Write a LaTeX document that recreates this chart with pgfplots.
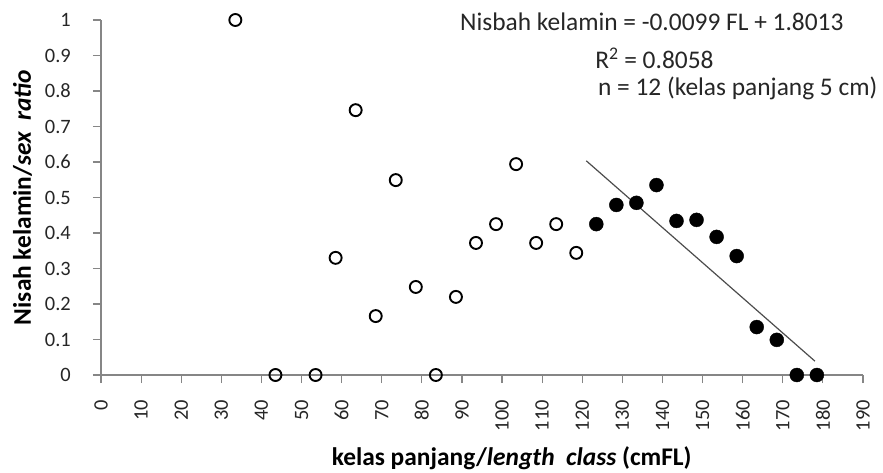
\documentclass[border=0pt]{standalone}
\usepackage{fontspec}
\setmainfont{Carlito}
\usepackage{pgfplots}
\pgfplotsset{compat=1.18}
\definecolor{axgray}{HTML}{868686}
\definecolor{txt}{HTML}{262626}

\begin{document}
\begin{tikzpicture}
\path[use as bounding box] (-101bp,-98bp) rectangle (782bp,375bp);
\begin{axis}[
    scale only axis,
    width=762bp, height=355bp,
    xmin=0, xmax=190, ymin=0, ymax=1,
    axis lines=left,
    axis line style={-, axgray, line width=1.2pt},
    tick style={axgray, line width=1.2pt},
    tick align=outside,
    major tick length=8bp,
    xtick={0,10,...,190},
    ytick={0,0.1,...,1},
    yticklabels={0,0.1,0.2,0.3,0.4,0.5,0.6,0.7,0.8,0.9,1},
    /pgf/number format/assume math mode=true,
    ticklabel style={font=\fontsize{20.5}{22}\selectfont, text=txt},
    xticklabel style={rotate=90, anchor=east, inner sep=0pt, xshift=-17bp},
    yticklabel style={anchor=east, inner sep=0pt, xshift=-22bp},
    clip=false,
    xlabel={\textbf{kelas panjang/\textit{length\ \ class} (cmFL)}},
    ylabel={\textbf{Nisah kelamin/\textit{sex\ \ ratio}}},
    label style={font=\fontsize{25.5}{27}\selectfont, text=black},
    xlabel style={at={(axis description cs:0.539,-0.234)}, anchor=center},
    ylabel style={at={(axis description cs:-0.103,0.5)}, anchor=center},
]
% open: outside regression
\addplot[only marks, mark=o, mark size=6bp, mark options={black, line width=1.9pt, fill=white}]
coordinates {
(33.5,1.0) (43.5,0) (53.5,0) (58.5,0.33) (63.5,0.746) (68.5,0.166)
(73.5,0.549) (78.5,0.248) (83.5,0) (88.5,0.22) (93.5,0.372) (98.5,0.425)
(103.5,0.594) (108.5,0.372) (113.5,0.425) (118.5,0.344)
};
% filled: used for regression
\addplot[only marks, mark=*, mark size=7bp, mark options={black}]
coordinates {
(123.5,0.425) (128.5,0.479) (133.5,0.485) (138.5,0.535) (143.5,0.434)
(148.5,0.437) (153.5,0.389) (158.5,0.335) (163.5,0.135) (168.5,0.099)
(173.5,0) (178.5,0)
};
\addplot[color=black!70, line width=1.2pt] coordinates {(121,0.6034) (178,0.0391)};
\node[anchor=west, inner sep=0, font=\fontsize{25.5}{27}\selectfont, text=txt] at (axis cs:89.5,0.994) {Nisbah kelamin = -0.0099 FL + 1.8013};
\node[anchor=west, inner sep=0, font=\fontsize{25.5}{27}\selectfont, text=txt] at (axis cs:123.2,0.893) {R\textsuperscript{2} = 0.8058};
\node[anchor=west, inner sep=0, font=\fontsize{25.5}{27}\selectfont, text=txt] at (axis cs:123.9,0.808) {n = 12 (kelas panjang 5 cm)};
\end{axis}
\end{tikzpicture}
\end{document}
